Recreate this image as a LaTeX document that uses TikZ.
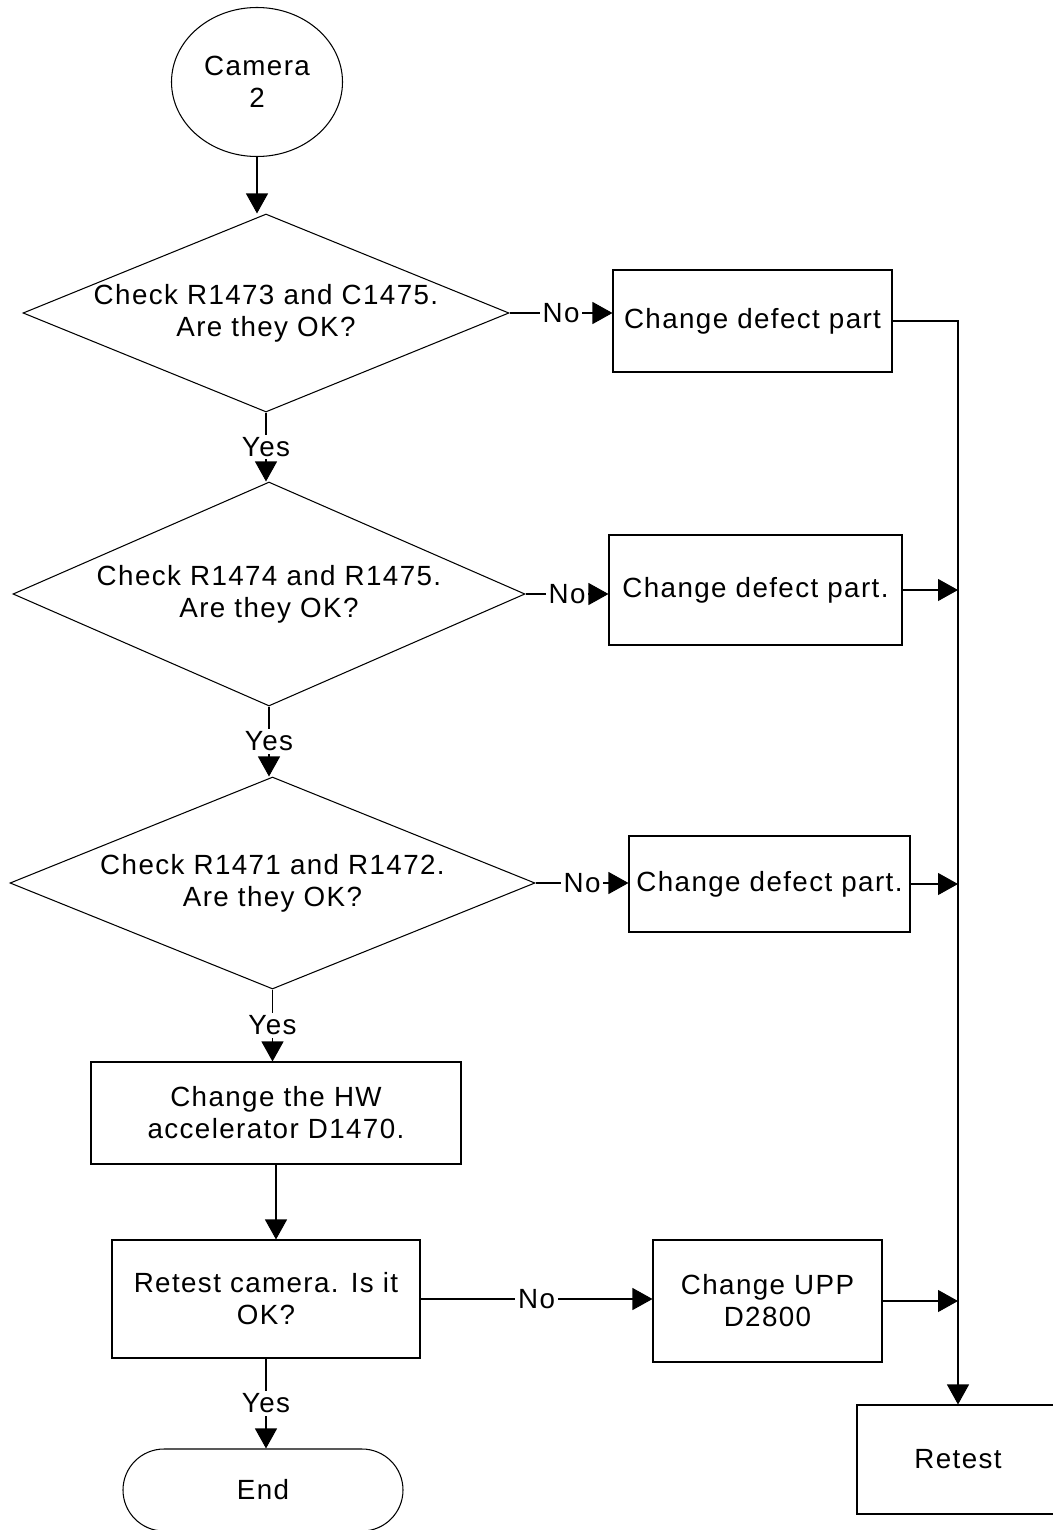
\documentclass[tikz,border=0pt]{standalone}
\usepackage{fontspec}
\setmainfont{Liberation Sans}[LetterSpace=5]
\usetikzlibrary{shapes.geometric, shapes.misc, arrows.meta}

\tikzstyle{terminal}=[ellipse, draw, inner sep=0pt, align=center]
\tikzstyle{stop-terminal}=[rounded rectangle, draw, inner sep=0pt]
\tikzstyle{decision}=[diamond, draw, aspect=2.5, inner xsep=-0.1cm, inner ysep=0pt, align=center]
\tikzstyle{process}=[rectangle, draw, inner sep=0pt, align=center]
\tikzstyle{branch-label}=[fill=white, inner sep=1.5pt]
\tikzstyle{directed-edge} = [draw, -{Triangle[length=0.4cm, width=0.44cm]}]

\begin{document}
\begin{tikzpicture}[font=\fontsize{15.8}{18.2}\selectfont, line width=0.6pt]
    \useasboundingbox (0,0) rectangle (21.04,-30.6);
    % First we draw the start, the checks and the end
    \node[terminal, minimum width=3.42cm, minimum height=2.98cm] (camera) at (5.14,-1.64) {Camera\\2};
    \node[decision, minimum width=9.72cm, minimum height=3.96cm] (check1) at (5.32,-6.26) {Check R1473 and C1475.\\Are they OK?};
    \node[decision, minimum width=10.24cm, minimum height=4.48cm] (check2) at (5.38,-11.88) {Check R1474 and R1475.\\Are they OK?};
    \node[decision, minimum width=10.5cm, minimum height=4.24cm] (check3) at (5.45,-17.66) {Check R1471 and R1472.\\Are they OK?};
    \node[stop-terminal, minimum width=5.6cm, minimum height=1.64cm] (stop) at (5.26,-29.8) {End};
    % Then the boxes
    \foreach \pos/\bw/\bh/\name/\txt in {{(15.05,-6.42)/5.58/2.04/part1/Change defect part},
        {(15.11,-11.8)/5.86/2.2/part2/Change defect part.},
        {(15.39,-17.68)/5.62/1.92/part3/Change defect part.},
        {(5.52,-22.26)/7.4/2.04/hwacc/Change the HW\\accelerator D1470.},
        {(5.32,-25.98)/6.16/2.36/retestcam/Retest camera. Is it\\OK?},
        {(15.35,-26.02)/4.58/2.44/upp/Change UPP\\D2800},
        {(19.16,-29.19)/4.04/2.18/retest/Retest}}
      \node[process, minimum width=\bw cm, minimum height=\bh cm] (\name) at \pos {\txt};
    % Connect the nodes
    \path[directed-edge] (camera.south) -- (camera.south |- check1.north);
    \path[directed-edge] (hwacc.south) -- (hwacc.south |- retestcam.north);
    \foreach \source/\dest in {check1/check2, check2/check3, check3/hwacc, retestcam/stop}
      \path[directed-edge] (\source.south) -- node[branch-label] {Yes} (\source.south |- \dest.north);
    \foreach \source/\dest in {check1/part1, check2/part2, check3/part3, retestcam/upp}
      \path[directed-edge] (\source.east) -- node[branch-label] {No} (\source.east -| \dest.west);
    % Everything goes to the retest
    \path[directed-edge] (part1.east) -| (retest.north);
    \foreach \source in {part2, part3, upp}
      \path[directed-edge] (\source.east) -- (\source.east -| retest.north);
\end{tikzpicture}
\end{document}
